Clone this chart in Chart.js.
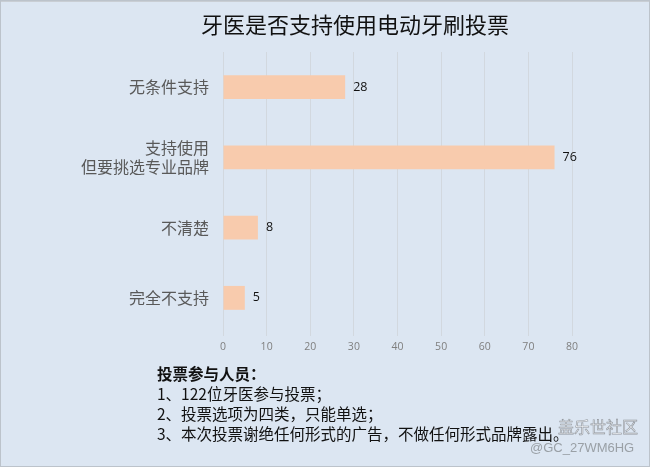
<!DOCTYPE html>
<html>
<head>
<meta charset="utf-8">
<script src="https://cdn.jsdelivr.net/npm/chart.js@4.4.1/dist/chart.umd.min.js"></script>
<style>
  html, body { margin: 0; padding: 0; background: #DCE6F2; }
  #wrap { position: relative; width: 650px; height: 467px; background: #DCE6F2; overflow: hidden;
          box-shadow: inset 0 0 0 1px #BCC3CB, inset 0 2px 0 0 #C9CED4; }
  #chart { position: absolute; left: 0; top: 0; }
  .t { position: absolute; font-family: "Noto Sans CJK SC", sans-serif; white-space: nowrap; }
  #title { left: 0; width: 710px; top: 7px; text-align: center; font-size: 22px; color: #111; }
  #foot { left: 157px; top: 363px; font-size: 15.5px; line-height: 20px; color: #111; }
  #foot b { font-weight: bold; }
  #wm1 { left: 558px; top: 414px; font-size: 16px; color: #f2f4f7; -webkit-text-stroke: 0.6px #8f959c; }
  #wm2 { left: 530px; top: 440px; font-size: 13px; color: #9aa0a6; font-family: "Liberation Sans", sans-serif; }
</style>
</head>
<body>
<div id="wrap">
  <canvas id="chart" width="650" height="467"></canvas>
  <div id="title" class="t">牙医是否支持使用电动牙刷投票</div>
  <div id="foot" class="t"><b>投票参与人员：</b><br>1、122位牙医参与投票；<br>2、投票选项为四类，只能单选；<br>3、本次投票谢绝任何形式的广告，不做任何形式品牌露出。</div>
  <div id="wm1" class="t">盖乐世社区</div>
  <div id="wm2" class="t">@GC_27WM6HG</div>
</div>
<script>
const categories = ['无条件支持', ['支持使用', '但要挑选专业品牌'], '不清楚', '完全不支持'];
const votes = [28, 76, 8, 5];
const xTicks = [0, 10, 20, 30, 40, 50, 60, 70, 80];

const valueLabels = {
  id: 'valueLabels',
  afterDatasetsDraw(chart) {
    const ctx = chart.ctx;
    const meta = chart.getDatasetMeta(0);
    ctx.save();
    ctx.font = '12.5px "Open Sans", sans-serif';
    ctx.fillStyle = '#111';
    ctx.textAlign = 'left';
    ctx.textBaseline = 'middle';
    meta.data.forEach((bar, i) => {
      ctx.fillText(String(votes[i]), bar.x + 8, bar.y);
    });
    ctx.restore();
  }
};

new Chart(document.getElementById('chart'), {
  type: 'bar',
  data: {
    labels: categories,
    datasets: [{
      data: votes,
      backgroundColor: '#F8CBAD',
      borderWidth: 0,
      categoryPercentage: 1.0,
      barPercentage: 0.34
    }]
  },
  options: {
    indexAxis: 'y',
    responsive: false,
    animation: false,
    layout: { padding: { top: 52, right: 78, left: 0, bottom: 104 } },
    plugins: { legend: { display: false }, tooltip: { enabled: false }, title: { display: false } },
    scales: {
      x: {
        min: 0, max: 80,
        afterBuildTicks(scale) { scale.ticks = xTicks.map(v => ({ value: v })); },
        afterFit(scale) { scale.height = 30; },
        grid: { color: '#D2D8DF', lineWidth: 1, tickLength: 3, drawTicks: true },
        border: { display: false },
        ticks: { color: '#7F7F7F', font: { size: 10.5, family: '"Open Sans", sans-serif' }, padding: 5 }
      },
      y: {
        afterFit(scale) { scale.width = 223; },
        grid: { display: false },
        border: { display: false },
        ticks: { color: '#595959', font: { size: 16, family: '"Noto Sans CJK SC", sans-serif', lineHeight: 1.15 }, padding: 6 }
      }
    }
  },
  plugins: [valueLabels]
});
</script>
</body>
</html>
